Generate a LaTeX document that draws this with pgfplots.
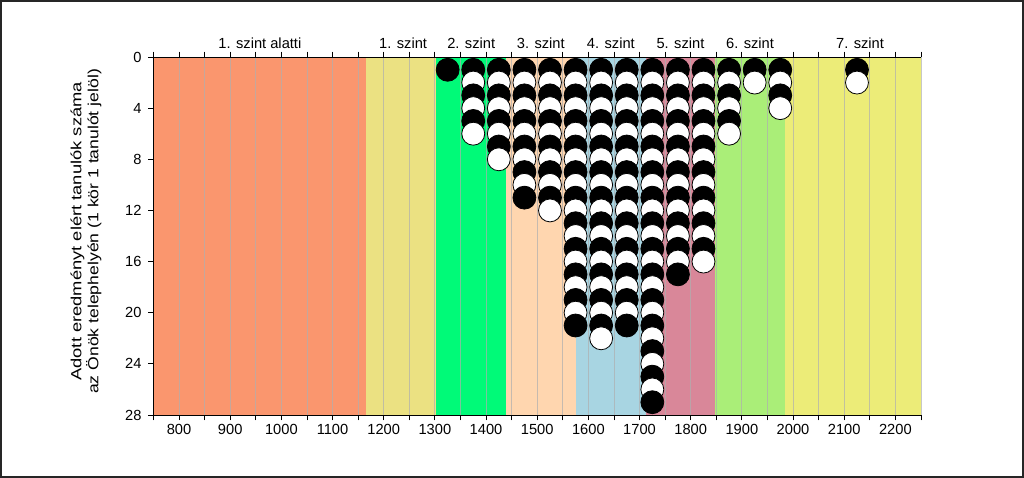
\documentclass[border=0pt]{standalone}
\usepackage{fontspec}
\setmainfont{Liberation Sans}
\usepackage{graphicx}
\usepackage{pgfplots}
\pgfplotsset{compat=1.18}
\definecolor{lv0}{RGB}{250,150,110}
\definecolor{lv1}{RGB}{235,225,130}
\definecolor{lv2}{RGB}{0,250,120}
\definecolor{lv3}{RGB}{255,214,175}
\definecolor{lv4}{RGB}{168,213,226}
\definecolor{lv5}{RGB}{217,135,153}
\definecolor{lv6}{RGB}{170,238,120}
\definecolor{lv7}{RGB}{236,236,120}
\definecolor{gridc}{RGB}{175,175,175}
\begin{document}
\begin{tikzpicture}[font=\fontsize{11}{13}\selectfont]
\draw[line width=1.5pt, black!85] (0.75pt,0.75pt) rectangle (767.25pt,357.75pt);
\begin{axis}[
  at={(115.1pt,47.25pt)}, anchor=south west,
  scale only axis, width=575.6pt, height=268.5pt,
  xmin=750, xmax=2250, ymin=0, ymax=28, y dir=reverse,
  axis x line=box, axis y line=left, axis line style={-, black, line width=0.6pt},
  xtick={800,900,...,2200}, minor xtick={750,850,...,2250},
  ytick={0,4,...,28},
  xticklabel pos=lower, ytick pos=left,
  tick align=outside, major tick length=4pt, minor tick length=4pt,
  every tick/.style={black, line width=0.6pt},
  xmajorgrids, xminorgrids,
  major grid style={draw=gridc, draw opacity=0.7, line width=0.6pt},
  minor grid style={draw=gridc, draw opacity=0.7, line width=0.6pt},
  axis on top, clip=false,
  /pgf/number format/assume math mode=true,
  /pgf/number format/1000 sep={},
  ticklabel style={font=\fontsize{11}{13}\selectfont},
  xticklabel style={yshift=0.8pt},
  yticklabel style={xshift=-1.5pt},
  ylabel={\scalebox{1.25}[1]{Adott eredményt elért tanulók száma}\\\scalebox{1.2}[1]{az Önök telephelyén (1 kör 1 tanulót jelöl)}},
  ylabel style={align=center, at={(axis cs:618,13.64)}, anchor=center, font=\fontsize{11}{12.8}\selectfont},
]
\addplot[draw=none, fill=lv0] coordinates {(750,0) (1166,0) (1166,28) (750,28)} -- cycle;
\addplot[draw=none, fill=lv1] coordinates {(1166,0) (1303,0) (1303,28) (1166,28)} -- cycle;
\addplot[draw=none, fill=lv2] coordinates {(1303,0) (1439,0) (1439,28) (1303,28)} -- cycle;
\addplot[draw=none, fill=lv3] coordinates {(1439,0) (1576,0) (1576,28) (1439,28)} -- cycle;
\addplot[draw=none, fill=lv4] coordinates {(1576,0) (1712,0) (1712,28) (1576,28)} -- cycle;
\addplot[draw=none, fill=lv5] coordinates {(1712,0) (1848,0) (1848,28) (1712,28)} -- cycle;
\addplot[draw=none, fill=lv6] coordinates {(1848,0) (1984,0) (1984,28) (1848,28)} -- cycle;
\addplot[draw=none, fill=lv7] coordinates {(1984,0) (2250,0) (2250,28) (1984,28)} -- cycle;
\addplot[scatter, only marks, mark size=8.6pt, scatter src=explicit symbolic,
  scatter/classes={b={mark=*, draw=black, fill=black, line width=0.6pt}, w={mark=*, draw=black, fill=white, line width=0.6pt}}]
  table[x=x, y=y, meta=c, row sep=\\] {
x y c\\
1325 1 b\\
1375 1 b\\ 1375 2 w\\ 1375 3 b\\ 1375 4 w\\ 1375 5 b\\ 1375 6 w\\
1425 1 b\\ 1425 2 w\\ 1425 3 b\\ 1425 4 w\\ 1425 5 b\\ 1425 6 w\\ 1425 7 b\\ 1425 8 w\\
1475 1 b\\ 1475 2 w\\ 1475 3 b\\ 1475 4 w\\ 1475 5 b\\ 1475 6 w\\ 1475 7 b\\ 1475 8 w\\ 1475 9 b\\ 1475 10 w\\ 1475 11 b\\
1525 1 b\\ 1525 2 w\\ 1525 3 b\\ 1525 4 w\\ 1525 5 b\\ 1525 6 w\\ 1525 7 b\\ 1525 8 w\\ 1525 9 b\\ 1525 10 w\\ 1525 11 b\\ 1525 12 w\\
1575 1 b\\ 1575 2 w\\ 1575 3 b\\ 1575 4 w\\ 1575 5 b\\ 1575 6 w\\ 1575 7 b\\ 1575 8 w\\ 1575 9 b\\ 1575 10 w\\ 1575 11 b\\ 1575 12 w\\ 1575 13 b\\ 1575 14 w\\ 1575 15 b\\ 1575 16 w\\ 1575 17 b\\ 1575 18 w\\ 1575 19 b\\ 1575 20 w\\ 1575 21 b\\
1625 1 b\\ 1625 2 w\\ 1625 3 b\\ 1625 4 w\\ 1625 5 b\\ 1625 6 w\\ 1625 7 b\\ 1625 8 w\\ 1625 9 b\\ 1625 10 w\\ 1625 11 b\\ 1625 12 w\\ 1625 13 b\\ 1625 14 w\\ 1625 15 b\\ 1625 16 w\\ 1625 17 b\\ 1625 18 w\\ 1625 19 b\\ 1625 20 w\\ 1625 21 b\\ 1625 22 w\\
1675 1 b\\ 1675 2 w\\ 1675 3 b\\ 1675 4 w\\ 1675 5 b\\ 1675 6 w\\ 1675 7 b\\ 1675 8 w\\ 1675 9 b\\ 1675 10 w\\ 1675 11 b\\ 1675 12 w\\ 1675 13 b\\ 1675 14 w\\ 1675 15 b\\ 1675 16 w\\ 1675 17 b\\ 1675 18 w\\ 1675 19 b\\ 1675 20 w\\ 1675 21 b\\
1725 1 b\\ 1725 2 w\\ 1725 3 b\\ 1725 4 w\\ 1725 5 b\\ 1725 6 w\\ 1725 7 b\\ 1725 8 w\\ 1725 9 b\\ 1725 10 w\\ 1725 11 b\\ 1725 12 w\\ 1725 13 b\\ 1725 14 w\\ 1725 15 b\\ 1725 16 w\\ 1725 17 b\\ 1725 18 w\\ 1725 19 b\\ 1725 20 w\\ 1725 21 b\\ 1725 22 w\\ 1725 23 b\\ 1725 24 w\\ 1725 25 b\\ 1725 26 w\\ 1725 27 b\\
1775 1 b\\ 1775 2 w\\ 1775 3 b\\ 1775 4 w\\ 1775 5 b\\ 1775 6 w\\ 1775 7 b\\ 1775 8 w\\ 1775 9 b\\ 1775 10 w\\ 1775 11 b\\ 1775 12 w\\ 1775 13 b\\ 1775 14 w\\ 1775 15 b\\ 1775 16 w\\ 1775 17 b\\
1825 1 b\\ 1825 2 w\\ 1825 3 b\\ 1825 4 w\\ 1825 5 b\\ 1825 6 w\\ 1825 7 b\\ 1825 8 w\\ 1825 9 b\\ 1825 10 w\\ 1825 11 b\\ 1825 12 w\\ 1825 13 b\\ 1825 14 w\\ 1825 15 b\\ 1825 16 w\\
1875 1 b\\ 1875 2 w\\ 1875 3 b\\ 1875 4 w\\ 1875 5 b\\ 1875 6 w\\
1925 1 b\\ 1925 2 w\\
1975 1 b\\ 1975 2 w\\ 1975 3 b\\ 1975 4 w\\
2125 1 b\\ 2125 2 w\\
};
\node[anchor=base, yshift=6.5pt] at (axis cs:958,0) {1. szint alatti};
\node[anchor=base, yshift=6.5pt] at (axis cs:1238,0) {1. szint};
\node[anchor=base, yshift=6.5pt] at (axis cs:1371,0) {2. szint};
\node[anchor=base, yshift=6.5pt] at (axis cs:1507,0) {3. szint};
\node[anchor=base, yshift=6.5pt] at (axis cs:1644,0) {4. szint};
\node[anchor=base, yshift=6.5pt] at (axis cs:1780,0) {5. szint};
\node[anchor=base, yshift=6.5pt] at (axis cs:1916,0) {6. szint};
\node[anchor=base, yshift=6.5pt] at (axis cs:2131,0) {7. szint};
\end{axis}
\end{tikzpicture}
\end{document}
